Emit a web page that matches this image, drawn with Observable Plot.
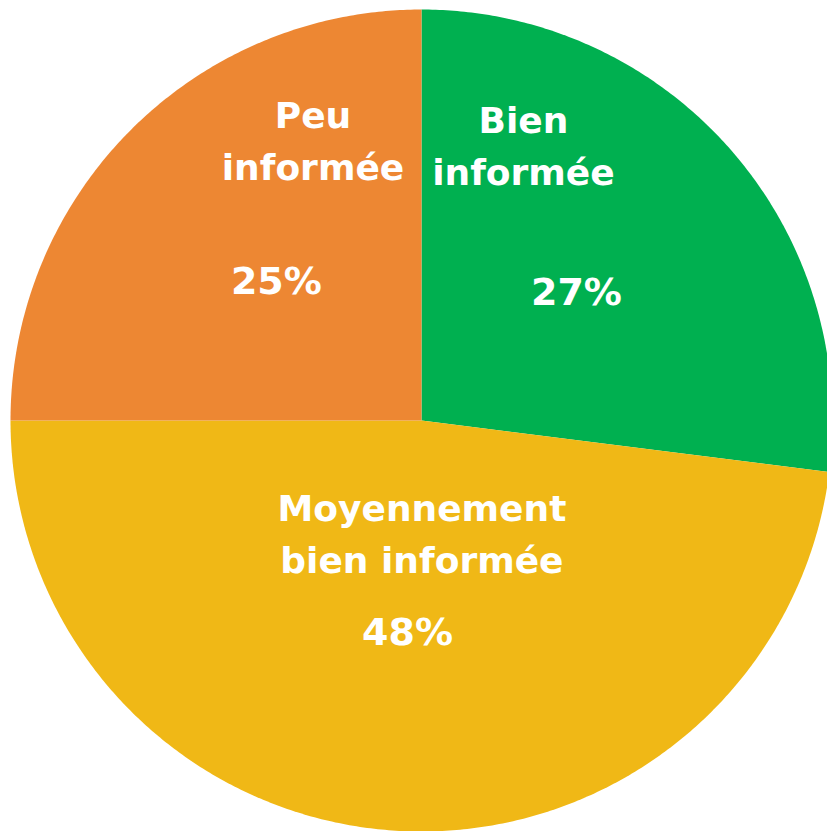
<!DOCTYPE html>
<html>
<head>
<meta charset="utf-8">
<script src="https://cdn.jsdelivr.net/npm/d3@7"></script>
<script src="https://cdn.jsdelivr.net/npm/@observablehq/plot@0.6"></script>
<style>
  html, body { margin: 0; padding: 0; background: #ffffff; overflow: hidden; }
  #chart svg { display: block; }
</style>
</head>
<body>
<div id="chart"></div>
<script>
// ---- data ----
const categories = ["Bien informée", "Moyennement bien informée", "Peu informée"];
const labelLines = ["Bien\ninformée", "Moyennement\nbien informée", "Peu\ninformée"];
const values = [27, 48, 25];
const percentLabels = ["27%", "48%", "25%"];
const colors = ["#00B050", "#F0B816", "#ED8733"];

// label anchors, in units of the pie radius (x right, y up), baseline of last line
const nameAnchors = [[0.248, 0.574], [0.001, -0.370], [-0.264, 0.586]];
const pctAnchors = [[0.377, 0.280], [-0.034, -0.547], [-0.353, 0.309]];

// ---- layout ----
const W = 827, H = 831;
const cx = 421, cy = 420, R = 411;

// ---- slice outlines, built from the values ----
const total = d3.sum(values);
const slicePoints = [];
let start = 0;
values.forEach((v, i) => {
  const a0 = start / total * 2 * Math.PI;
  const a1 = (start + v) / total * 2 * Math.PI;
  start += v;
  slicePoints.push({cat: categories[i], x: 0, y: 0});
  const n = Math.max(2, Math.ceil((a1 - a0) / (Math.PI / 360)));
  for (let k = 0; k <= n; k++) {
    const a = a0 + (a1 - a0) * k / n;
    slicePoints.push({cat: categories[i], x: Math.sin(a), y: Math.cos(a)});
  }
  slicePoints.push({cat: categories[i], x: 0, y: 0});
});

const nameData = categories.map((c, i) => ({cat: c, text: labelLines[i], x: nameAnchors[i][0], y: nameAnchors[i][1]}));
const pctData = categories.map((c, i) => ({cat: c, text: percentLabels[i], x: pctAnchors[i][0], y: pctAnchors[i][1]}));

const font = "'DejaVu Sans', sans-serif";

const chart = Plot.plot({
  width: W,
  height: H,
  margin: 0,
  x: {domain: [(0 - cx) / R, (W - cx) / R], axis: null},
  y: {domain: [(cy - H) / R, cy / R], axis: null},
  color: {domain: categories, range: colors},
  style: {background: "#ffffff", overflow: "hidden"},
  marks: [
    Plot.line(slicePoints, {x: "x", y: "y", z: "cat", fill: "cat", stroke: "none", curve: "linear"}),
    Plot.text(nameData, {
      x: "x", y: "y", text: "text",
      fill: "white", fontSize: 36, fontWeight: "bold", fontFamily: font,
      textAnchor: "middle", lineAnchor: "bottom", lineHeight: 1.44
    }),
    Plot.text(pctData, {
      x: "x", y: "y", text: "text",
      fill: "white", fontSize: 38, fontWeight: "bold", fontFamily: font,
      textAnchor: "middle", lineAnchor: "bottom"
    })
  ]
});
document.getElementById("chart").appendChild(chart);
</script>
</body>
</html>
